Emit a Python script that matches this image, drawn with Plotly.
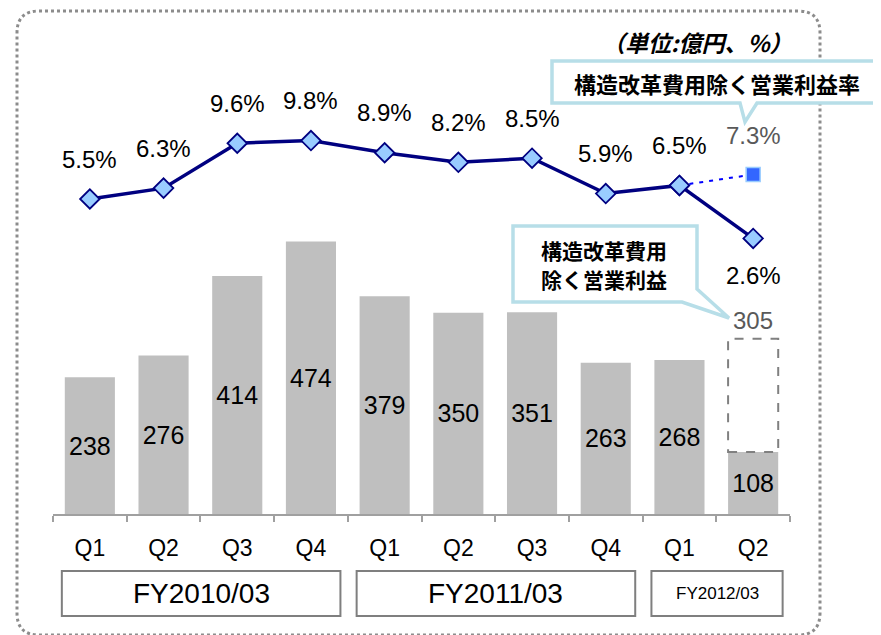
import plotly.graph_objects as go

# data
quarters = ["Q1", "Q2", "Q3", "Q4", "Q1", "Q2", "Q3", "Q4", "Q1", "Q2"]
fiscal_years = ["FY2010/03", "FY2011/03", "FY2012/03"]
fy_quarter_count = [4, 4, 2]
op_income = [238, 276, 414, 474, 379, 350, 351, 263, 268, 108]
op_margin = [5.5, 6.3, 9.6, 9.8, 8.9, 8.2, 8.5, 5.9, 6.5, 2.6]
excl_income_last = 305      # 構造改革費用除く営業利益 (last quarter)
excl_margin_last = 7.3      # 構造改革費用除く営業利益率 (last quarter)

W, H = 881, 635
OFF = 8                      # page body margin
PW, PH = 737, 454
L, T = 53 - OFF, 60 - OFF
R, B = W - L - PW, H - T - PH

FONT = "Liberation Sans, Arial, sans-serif"
JP = "Noto Sans CJK JP, sans-serif"

cats = [f"{i}_{q}" for i, q in enumerate(quarters)]


def px(x, y):
    # screen pixel -> paper
    return (x - OFF - L) / PW, (T + PH - (y - OFF)) / PH


def path(points):
    s = ""
    for i, (x, y) in enumerate(points):
        xp, yp = px(x, y)
        s += ("M" if i == 0 else "L") + f"{xp:.5f},{yp:.5f}"
    return s + "Z"


fig = go.Figure()

fig.add_trace(go.Bar(
    x=cats, y=op_income, width=0.68,
    marker=dict(color="#BFBFBF", line=dict(width=0)),
    text=[str(v) for v in op_income], textposition="inside",
    insidetextanchor="middle", textangle=0,
    textfont=dict(family=FONT, size=25, color="black"),
    hoverinfo="skip", showlegend=False,
))

fig.add_trace(go.Scatter(
    x=cats, y=op_margin, yaxis="y2", mode="lines+markers",
    line=dict(color="#000080", width=3.5),
    marker=dict(symbol="diamond", size=15, color="#99CCFF",
                line=dict(color="#000080", width=1.8)),
    hoverinfo="skip", showlegend=False,
))

fig.add_trace(go.Scatter(
    x=cats[-2:], y=[op_margin[-2], excl_margin_last], yaxis="y2", mode="lines",
    line=dict(color="#0000FF", width=2, dash="4px,6px"),
    hoverinfo="skip", showlegend=False,
))
fig.add_trace(go.Scatter(
    x=[cats[-1]], y=[excl_margin_last], yaxis="y2", mode="markers",
    marker=dict(symbol="square", size=14, color="#3366FF",
                line=dict(color="#99CCFF", width=1.5)),
    hoverinfo="skip", showlegend=False,
))

# re-draw the Q1 marker on top of the dashed line
fig.add_trace(go.Scatter(
    x=cats[-2:-1], y=op_margin[-2:-1], yaxis="y2", mode="markers",
    marker=dict(symbol="diamond", size=15, color="#99CCFF",
                line=dict(color="#000080", width=1.8)),
    hoverinfo="skip", showlegend=False,
))

annotations = []
for i, v in enumerate(op_margin):
    annotations.append(dict(
        x=cats[i], y=v, xref="x", yref="y2", text=f"{v}%", showarrow=False,
        yshift=-37 if i == len(op_margin) - 1 else 40,
        font=dict(family=FONT, size=24, color="black"),
    ))
annotations.append(dict(
    x=cats[-1], y=excl_margin_last, xref="x", yref="y2",
    text=f"{excl_margin_last}%", showarrow=False, yshift=39,
    font=dict(family=FONT, size=24, color="#595959"),
))
annotations.append(dict(
    x=cats[-1], y=excl_income_last, xref="x", yref="y",
    text=str(excl_income_last), showarrow=False, yanchor="bottom", yshift=3,
    font=dict(family=FONT, size=24, color="#595959"),
))

shapes = []
last = len(op_income) - 1
shapes.append(dict(
    type="rect", xref="x", yref="y",
    x0=last - 0.34, x1=last + 0.34, y0=op_income[-1], y1=excl_income_last,
    line=dict(color="#808080", width=2, dash="dash"), fillcolor="rgba(0,0,0,0)",
))

# fiscal year boxes
start = 0
for fy, n in zip(fiscal_years, fy_quarter_count):
    x0, x1 = start - 0.38, start + n - 1 + 0.4
    y0, y1 = px(0, 616)[1], px(0, 571)[1]
    shapes.append(dict(type="rect", xref="x", yref="paper", x0=x0, x1=x1,
                       y0=y0, y1=y1, line=dict(color="#7F7F7F", width=2)))
    annotations.append(dict(
        x=(x0 + x1) / 2, y=(y0 + y1) / 2, xref="x", yref="paper", text=fy,
        xanchor="center", yanchor="middle", showarrow=False,
        font=dict(family=FONT, size=28 if n == 4 else 17, color="black"),
    ))
    start += n

# outer dotted rounded frame
lx, rx, ty, by, r = 17, 820, 11, 635, 22


def q(x, y):
    return "{:.5f},{:.5f}".format(*px(x, y))


frame = (f"M{q(lx + r, ty)}L{q(rx - r, ty)}Q{q(rx, ty)} {q(rx, ty + r)}"
         f"L{q(rx, by - r)}Q{q(rx, by)} {q(rx - r, by)}L{q(lx + r, by)}"
         f"Q{q(lx, by)} {q(lx, by - r)}L{q(lx, ty + r)}Q{q(lx, ty)} {q(lx + r, ty)}Z")
shapes.append(dict(type="path", xref="paper", yref="paper", path=frame,
                   line=dict(color="#8C8C8C", width=3, dash="dot")))

# callouts
callout_line = dict(color="#B7DEE8", width=3.5)
shapes.append(dict(type="path", xref="paper", yref="paper", fillcolor="white",
                   line=callout_line,
                   path=path([(552, 61), (900, 61), (900, 103), (757, 103),
                              (745, 122), (740, 103), (552, 103)])))
shapes.append(dict(type="path", xref="paper", yref="paper", fillcolor="white",
                   line=callout_line,
                   path=path([(513, 226), (697, 226), (697, 289), (729, 318),
                              (682, 302), (513, 302)])))


def label(x, y, text, size=22):
    xp, yp = px(x, y)
    annotations.append(dict(
        x=xp, y=yp, xref="paper", yref="paper", text=text, showarrow=False,
        xanchor="center", yanchor="middle",
        font=dict(family=JP, size=size, color="black"),
    ))


label(717, 83, "<b>構造改革費用除く営業利益率</b>")
label(604, 250, "<b>構造改革費用</b>", size=21)
label(604, 279, "<b>除く営業利益</b>", size=21)
label(697, 42, "<b><i>（単位:億円、%）</i></b>", size=23)

fig.update_layout(
    width=W, height=H, autosize=False,
    margin=dict(l=L, r=R, t=T, b=B),
    paper_bgcolor="white", plot_bgcolor="white",
    xaxis=dict(type="category", tickvals=cats, ticktext=quarters,
               tickson="boundaries", ticks="outside", ticklen=6,
               tickcolor="#A0A0A0", tickwidth=1.5,
               showline=True, linecolor="#A0A0A0", linewidth=1.5,
               showgrid=False, ticklabelstandoff=13,
               tickfont=dict(family=FONT, size=23, color="black"),
               range=[-0.5, 9.5]),
    yaxis=dict(range=[0, 790], visible=False, showgrid=False),
    yaxis2=dict(range=[-17.66, 15.72], overlaying="y", visible=False, showgrid=False),
    shapes=shapes, annotations=annotations,
)

fig.write_html("out.html")
